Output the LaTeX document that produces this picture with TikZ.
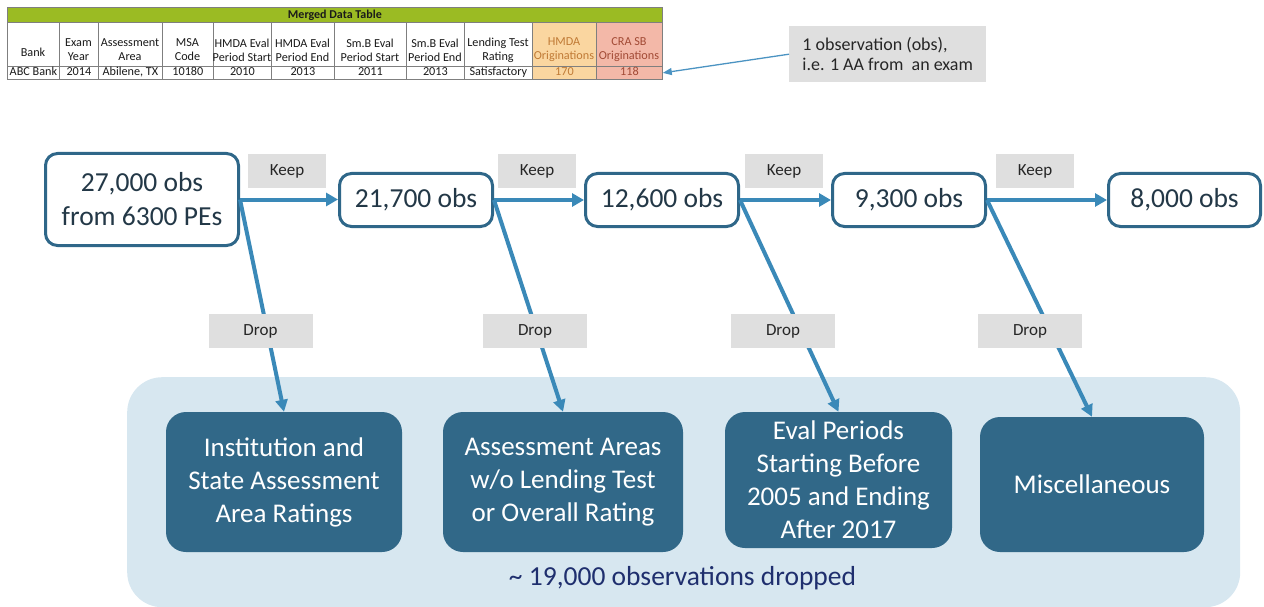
\documentclass[tikz,border=0pt]{standalone}
\usepackage{fontspec}
\setmainfont{Carlito}
\usetikzlibrary{arrows.meta}
\definecolor{flowblue}{HTML}{3A89B8}
\definecolor{callblue}{HTML}{4B93C2}
\definecolor{nodeborder}{HTML}{2F6789}
\definecolor{darkfill}{HTML}{316888}
\definecolor{lightbg}{HTML}{D7E7F0}
\definecolor{labelgray}{HTML}{DFDFDF}
\definecolor{nodetext}{HTML}{233847}
\definecolor{navytext}{HTML}{1F2F6E}
\definecolor{tablegreen}{HTML}{9BBB23}
\definecolor{hmdafill}{HTML}{FAD6A0}
\definecolor{crafill}{HTML}{F3B8A8}
\definecolor{hmdatext}{HTML}{C07A35}
\definecolor{cratext}{HTML}{A24A35}
\definecolor{gridgray}{HTML}{7F7F7F}
\definecolor{tabtext}{HTML}{1A1A1A}
\tikzset{
  obsbox/.style={draw=nodeborder, line width=3pt, rounded corners=12pt, fill=white,
    text=nodetext, font=\fontsize{27.5}{34}\selectfont, align=center, inner sep=0pt},
  catbox/.style={fill=darkfill, rounded corners=20pt, text=white,
    font=\fontsize{27}{33}\selectfont, align=center, inner sep=0pt},
  tag/.style={fill=labelgray, font=\fontsize{17}{20}\selectfont, text=black!85,
    inner sep=0pt, minimum height=34pt},
  keeparrow/.style={draw=flowblue, line width=4pt, -{Triangle[length=12pt,width=13pt]}},
  droparrow/.style={draw=flowblue, line width=4pt, -{Triangle[length=12pt,width=12pt]}},
  callarrow/.style={draw=callblue, line width=1.3pt, -{Triangle[length=9pt,width=7pt]}},
  cell/.style={draw=gridgray, line width=0.8pt, anchor=north west, inner sep=0pt,
    font=\fontsize{12.2}{14}\selectfont},
  htext/.style={align=center, inner sep=0pt, font=\fontsize{12.2}{14}\selectfont},
  callout/.style={fill=labelgray, anchor=north west, align=left,
    inner sep=0pt, minimum width=197pt, minimum height=56pt, text=black!85,
    font=\fontsize{18}{20.5}\selectfont},
  bgpanel/.style={fill=lightbg, rounded corners=35pt, anchor=north west, inner sep=0pt},
  sumtext/.style={text=navytext, font=\fontsize{27.5}{33}\selectfont, inner sep=0pt}
}
\begin{document}
\begin{tikzpicture}[x=1pt,y=-1pt]
\useasboundingbox (0,0) rectangle (1264,607);

% ---------------- table ----------------
\node[cell, fill=tablegreen, minimum width=655, minimum height=15,
      font=\fontsize{12}{14}\selectfont\bfseries, text=tabtext] (title) at (7,7) {Merged Data Table};
\foreach \i/\x/\w/\fc/\tc/\hd/\dt in {
  1/7/52/white/tabtext/{\mbox{}\\Bank}/{ABC Bank},
  2/59/39/white/tabtext/{Exam\\Year}/{2014},
  3/98/64/white/tabtext/{Assessment\\Area}/{Abilene, TX},
  4/162/51/white/tabtext/{MSA\\Code}/{10180},
  5/213/58/white/tabtext/{HMDA Eval\\Period Start}/{2010},
  6/271/63/white/tabtext/{HMDA Eval\\Period End}/{2013},
  7/334/72/white/tabtext/{Sm.B Eval\\Period Start}/{2011},
  8/406/58/white/tabtext/{Sm.B Eval\\Period End}/{2013},
  9/464/68/white/tabtext/{Lending Test\\Rating}/{Satisfactory},
  10/532/64/hmdafill/hmdatext/{HMDA\\Originations}/{170},
  11/596/66/crafill/cratext/{CRA SB\\Originations}/{118}}{
  \node[cell, fill=\fc, minimum width=\w, minimum height=44] (h\i) at (\x,22) {};
  \node[htext, text=\tc] (ht\i) at (\x+\w/2,50) {\hd};
  \node[cell, fill=\fc, text=\tc, minimum width=\w, minimum height=13,
        text height=8.5pt, text depth=2.5pt] (d\i) at (\x,66) {\dt};
}

% callout
\node[callout] (call) at (789,26) {1 observation (obs),\\i.e. 1 AA from\ \ an exam};
\draw[callarrow] (call.west) -- (d11.east);

% ---------------- background panel ----------------
\node[bgpanel, minimum width=1113, minimum height=230] (panel) at (127,377) {};
\node[sumtext] (sum) at (682.5,578) {\textasciitilde\ 19,000 observations dropped};

% ---------------- flow nodes ----------------
\node[obsbox, minimum width=193, minimum height=92] (n1) at (142,199.5) {27,000 obs\\from 6300 PEs};
\node[obsbox, minimum width=153, minimum height=53] (n2) at (416,200) {21,700 obs};
\node[obsbox, minimum width=153, minimum height=53] (n3) at (662,200) {12,600 obs};
\node[obsbox, minimum width=153, minimum height=53] (n4) at (909,200) {9,300 obs};
\node[obsbox, minimum width=152, minimum height=53] (n5) at (1184.5,200) {8,000 obs};

% ---------------- categories ----------------
\node[catbox, minimum width=236, minimum height=140] (c1) at (284,482) {Institution and\\State Assessment\\Area Ratings};
\node[catbox, minimum width=240, minimum height=140] (c2) at (563,482) {Assessment Areas\\w/o Lending Test\\or Overall Rating};
\node[catbox, minimum width=227, minimum height=136] (c3) at (838.5,480) {Eval Periods\\Starting Before\\2005 and Ending\\After 2017};
\node[catbox, minimum width=224, minimum height=135] (c4) at (1092,484.5) {Miscellaneous};

% ---------------- arrows ----------------
\draw[keeparrow] (n1.east) -- (n1.east -| n2.west);
\draw[keeparrow] (n2.east) -- (n3.west);
\draw[keeparrow] (n3.east) -- (n4.west);
\draw[keeparrow] (n4.east) -- (n5.west);
\draw[droparrow] (n1.east) -- (c1.north);
\draw[droparrow] (n2.east) -- (c2.north);
\draw[droparrow] (n3.east) -- (c3.north);
\draw[droparrow] (n4.east) -- (c4.north);

% ---------------- tags ----------------
\node[tag, minimum width=78] (k1) at (287,171) {Keep};
\node[tag, minimum width=78] (k2) at (537,171) {Keep};
\node[tag, minimum width=78] (k3) at (784,171) {Keep};
\node[tag, minimum width=78] (k4) at (1035,171) {Keep};
\node[tag, minimum width=104] (x1) at (260.5,331) {Drop};
\node[tag, minimum width=104] (x2) at (535,331) {Drop};
\node[tag, minimum width=104] (x3) at (783,331) {Drop};
\node[tag, minimum width=104] (x4) at (1030,331) {Drop};
\end{tikzpicture}
\end{document}
